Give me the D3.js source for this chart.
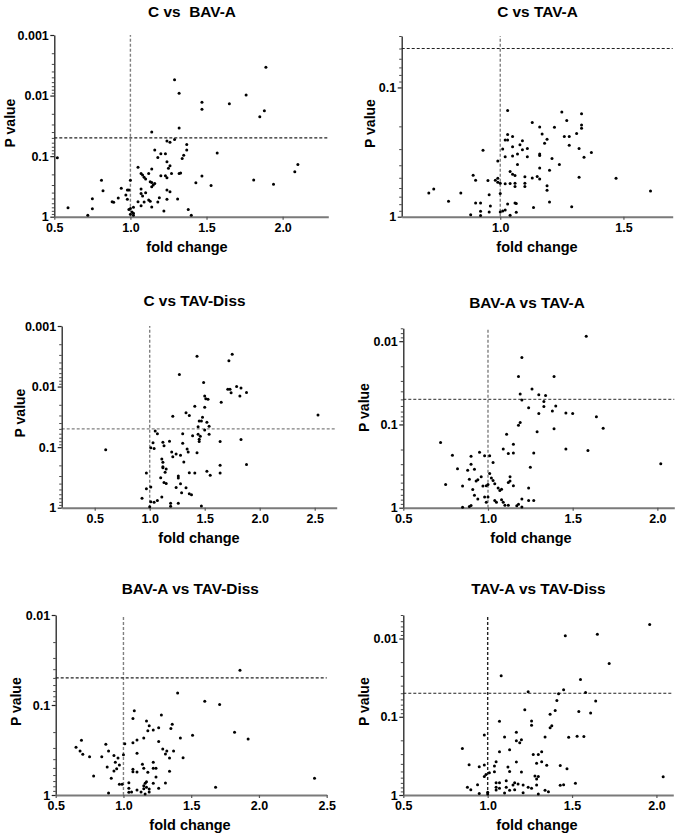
<!DOCTYPE html>
<html>
<head>
<meta charset="utf-8">
<script src="https://cdn.jsdelivr.net/npm/d3@7"></script>
<style>
  html,body{margin:0;padding:0;background:#fff;}
  svg{display:block;}
  text{font-family:"Liberation Sans",Arial,sans-serif;font-weight:bold;fill:#000;}
</style>
</head>
<body>
<svg id="chart" width="678" height="837"></svg>
<script>
// ---------- DATA: [fold change, P value] ----------
const cBavA = [[1.89,.0034],[1.29,.0055],[1.32,.0092],[1.47,.0129],[1.47,.0169],[1.65,.0136],[1.76,.0098],[1.88,.0178],[1.85,.0223],[1.32,.0344],
[1.14,.040],[1.29,.053],[1.24,.056],[1.26,.059],[1.37,.064],[1.37,.079],[1.16,.079],[1.20,.091],[1.23,.091],[0.52,.106],
[1.35,.097],[1.34,.109],[1.18,.105],[1.57,.089],[2.10,.137],[2.08,.181],[1.24,.124],[1.26,.144],[1.25,.159],[1.27,.193],
[1.32,.193],[1.33,.19],[1.23,.21],[1.20,.21],[1.14,.163],[1.05,.153],[1.07,.193],[1.08,.205],[1.09,.224],[1.12,.193],
[1.10,.239],[1.13,.264],[1.14,.273],[1.16,.282],[1.15,.30],[1.14,.32],[1.00,.251],[1.24,.227],[1.43,.275],[1.47,.213],
[1.53,.304],[1.81,.248],[1.94,.292],[0.81,.251],[0.82,.372],[0.94,.34],[0.98,.363],[0.99,.363],[0.97,.439],[0.92,.492],
[0.88,.565],[0.89,.58],[0.98,.517],[0.75,.504],[0.75,.738],[0.59,.71],[0.72,.95],[1.07,.349],[1.07,.412],[1.08,.456],
[1.10,.401],[1.05,.565],[1.07,.658],[1.09,.573],[1.12,.531],[1.13,.558],[1.14,.692],[1.18,.573],[1.19,.486],[1.24,.363],
[1.26,.387],[1.24,.517],[1.31,.51],[1.22,.806],[1.38,.757],[1.40,.95],[0.99,.757],[1.00,.73],[1.02,.70],[1.01,.838],
[1.02,.88],[1.00,.915],[1.02,.95]];

const cTavA = [[1.03,.151],[1.25,.155],[1.33,.16],[1.27,.18],[1.13,.187],[1.33,.195],[1.16,.202],[1.33,.207],[1.22,.203],[1.31,.227],
[1.28,.24],[1.26,.24],[1.17,.229],[1.19,.252],[1.18,.27],[1.28,.28],[1.03,.231],[1.05,.24],[1.02,.255],[1.03,.255],
[1.09,.259],[1.08,.277],[1.05,.288],[1.11,.297],[1.09,.304],[1.01,.30],[0.93,.306],[1.07,.327],[1.05,.339],[1.02,.343],
[1.11,.343],[1.16,.327],[1.16,.336],[1.21,.355],[1.32,.297],[1.37,.319],[1.34,.347],[0.99,.37],[1.07,.395],[1.24,.395],
[1.16,.42],[1.04,.448],[1.05,.47],[1.06,.481],[1.2,.437],[1.1,.49],[1.15,.489],[1.13,.502],[1.16,.51],[1.32,.496],
[1.47,.505],[0.89,.478],[0.90,.523],[0.95,.525],[0.98,.523],[0.99,.505],[0.99,.542],[1.0,.55],[1.02,.555],[1.04,.553],
[1.06,.55],[1.06,.585],[1.10,.55],[1.10,.585],[1.19,.575],[1.19,.625],[1.61,.632],[0.71,.656],[0.73,.61],[0.84,.656],
[0.79,.76],[0.955,.675],[1.0,.662],[0.90,.783],[0.92,.783],[0.96,.826],[0.92,.909],[0.955,.92],[0.88,.965],[0.92,.98],
[1.0,.92],[1.01,.904],[1.02,.888],[1.03,.798],[1.06,.783],[1.065,.79],[1.065,.925],[1.04,.976],[1.135,.847],[1.2,.77],
[1.29,.836]];

const cTavDiss = [[1.75,.00294],[1.72,.00374],[1.43,.00317],[1.27,.0063],[1.49,.0086],[1.71,.0111],[1.73,.0111],[1.74,.0126],[1.79,.010],[1.83,.0106],
[1.82,.0143],[1.88,.0125],[1.50,.0143],[1.51,.0159],[1.53,.0162],[1.50,.022],[1.41,.0212],[1.65,.0182],[1.33,.027],[1.36,.030],
[1.21,.031],[1.48,.032],[1.45,.037],[1.47,.037],[1.52,.039],[1.54,.045],[2.53,.0295],[1.44,.046],[1.50,.052],[1.54,.061],
[1.44,.061],[1.46,.066],[1.45,.074],[1.45,.081],[1.30,.060],[1.39,.065],[1.05,.054],[1.07,.060],[1.18,.080],[1.03,.085],
[1.12,.083],[1.13,.095],[1.30,.086],[1.64,.081],[1.83,.075],[1.01,.102],[1.04,.105],[0.60,.110],[1.34,.107],[1.35,.120],
[1.43,.124],[1.20,.120],[1.21,.144],[1.24,.130],[1.28,.136],[1.11,.157],[1.31,.176],[1.12,.178],[1.12,.210],[1.12,.219],
[1.15,.230],[1.14,.261],[0.97,.268],[1.36,.264],[1.41,.268],[1.52,.251],[1.55,.292],[1.64,.200],[1.64,.268],[1.88,.193],
[1.10,.320],[1.13,.382],[1.15,.400],[1.26,.300],[1.26,.324],[1.28,.402],[1.24,.462],[1.33,.467],[1.29,.565],[1.36,.587],
[1.38,.610],[0.97,.486],[1.01,.456],[0.93,.701],[1.01,.796],[1.04,.815],[1.07,.757],[1.11,.667],[1.19,.848],[1.19,.950],
[1.26,.848],[1.47,.940],[1.00,.960]];

const bavATavA = [[1.58,.0087],[1.20,.0157],[1.18,.0265],[1.39,.0265],[1.26,.0376],[1.19,.043],[1.30,.044],[1.34,.045],[1.20,.051],[1.33,.053],
[1.33,.061],[1.40,.060],[1.24,.063],[1.38,.069],[1.30,.074],[1.46,.073],[1.50,.074],[1.64,.081],[1.19,.095],[1.18,.102],
[1.68,.111],[1.39,.113],[1.11,.131],[1.29,.122],[0.72,.165],[1.15,.173],[1.09,.197],[1.12,.224],[1.15,.220],[1.27,.220],
[1.46,.197],[1.59,.206],[2.02,.297],[1.25,.326],[0.79,.234],[0.90,.241],[0.95,.216],[0.98,.237],[1.01,.237],[1.03,.286],
[0.82,.341],[0.88,.354],[0.90,.300],[0.92,.345],[0.89,.454],[0.93,.479],[0.94,.461],[0.96,.425],[1.01,.388],[1.02,.441],
[1.03,.470],[1.00,.526],[1.04,.517],[1.06,.581],[1.07,.620],[1.08,.600],[1.12,.497],[1.13,.479],[1.13,.425],[1.15,.545],
[0.75,.526],[0.85,.550],[0.91,.603],[0.97,.550],[0.99,.545],[0.92,.711],[0.94,.787],[0.98,.745],[1.00,.745],[0.99,.863],
[1.04,.817],[1.05,.863],[1.08,.800],[1.09,.863],[1.10,.937],[1.12,.937],[1.17,.946],[1.18,.912],[1.20,.787],[1.20,.980],
[1.24,.580],[1.24,.820],[1.27,.820],[0.85,.990],[0.90,.940],[0.89,.970]];

const bavATavDiss = [[1.86,.0412],[1.40,.0736],[1.60,.091],[1.71,.099],[1.08,.116],[1.07,.141],[1.28,.129],[1.17,.151],[1.19,.170],[1.18,.193],
[1.22,.190],[1.26,.179],[1.36,.164],[1.35,.182],[1.82,.201],[1.51,.217],[1.92,.239],[1.42,.233],[1.26,.255],[1.15,.232],
[1.07,.262],[1.10,.245],[1.01,.269],[0.69,.247],[0.65,.295],[0.68,.324],[0.70,.353],[0.75,.375],[0.84,.375],[0.87,.273],
[0.89,.324],[0.93,.365],[0.96,.388],[1.00,.356],[1.10,.344],[1.29,.308],[1.32,.324],[1.37,.324],[1.31,.351],[1.34,.388],
[1.44,.386],[0.94,.433],[0.97,.464],[0.88,.489],[0.95,.510],[0.93,.541],[0.91,.653],[0.78,.615],[0.97,.761],[0.99,.761],
[0.89,.950],[1.14,.456],[1.15,.506],[1.22,.433],[1.22,.506],[1.24,.506],[1.07,.519],[1.07,.551],[1.10,.555],[1.18,.560],
[1.34,.546],[1.24,.631],[1.17,.711],[1.04,.730],[1.16,.742],[1.22,.742],[1.31,.736],[1.04,.843],[1.10,.880],[1.06,.926],
[1.04,.934],[1.13,.926],[1.15,.850],[1.17,.820],[1.19,.858],[1.19,.926],[1.16,.975],[1.26,.843],[1.68,.822],[2.41,.653],
[1.15,.790]];

const tavATavDiss = [[1.96,.0066],[1.65,.0088],[1.46,.0092],[1.72,.0208],[1.08,.030],[1.55,.0334],[1.45,.0452],[1.24,.048],[1.58,.0489],[1.42,.0509],
[1.41,.0618],[1.64,.063],[1.22,.0814],[1.40,.083],[1.54,.0855],[1.61,.0898],[1.37,.0925],[1.07,.114],[1.26,.113],[1.26,.128],
[1.38,.130],[1.37,.138],[1.17,.158],[1.17,.202],[1.20,.197],[1.19,.215],[0.98,.171],[1.34,.182],[1.10,.182],[1.48,.183],
[1.53,.177],[1.57,.179],[0.85,.254],[1.07,.280],[1.13,.264],[1.27,.303],[1.30,.303],[1.32,.280],[1.05,.375],[1.17,.378],
[1.29,.394],[1.32,.375],[0.89,.410],[0.95,.435],[0.98,.413],[1.04,.426],[1.12,.439],[1.35,.418],[1.43,.421],[1.47,.461],
[1.13,.499],[1.20,.508],[1.04,.503],[1.01,.518],[0.98,.578],[0.99,.545],[1.28,.572],[1.29,.625],[1.30,.578],[2.04,.583],
[0.94,.738],[0.88,.798],[0.90,.855],[0.95,.960],[1.00,.925],[1.00,.970],[1.05,.696],[1.07,.696],[1.05,.798],[1.07,.822],
[1.05,.863],[1.10,.943],[1.11,.798],[1.11,.656],[1.13,.872],[1.16,.696],[1.18,.723],[1.21,.745],[1.21,.934],[1.24,.798],
[1.26,.822],[1.29,.745],[1.30,.970],[1.34,.872],[1.36,.906],[1.43,.753],[1.45,.738],[1.52,.710],[1.15,.745],[1.16,.855]];

// ---------- TEXT & TICKS ----------
const titles = ["C vs  BAV-A","C vs TAV-A","C vs TAV-Diss","BAV-A vs TAV-A","BAV-A vs TAV-Diss","TAV-A vs TAV-Diss"];
const xTitle = "fold change";
const yTitle = "P value";
const pThreshold = 0.05;
const fcThreshold = 1.0;
const xTicks = [[0.5,1.0,1.5,2.0],[1.0,1.5],[0.5,1.0,1.5,2.0,2.5],[0.5,1.0,1.5,2.0],[0.5,1.0,1.5,2.0,2.5],[0.5,1.0,1.5,2.0]];
const yTicks = [[1,0.1,0.01,0.001],[1,0.1],[1,0.1,0.01,0.001],[1,0.1,0.01],[1,0.1,0.01],[1,0.1,0.01]];
const xDomains = [[0.5,2.3],[0.6,1.7],[0.2,2.7],[0.5,2.1],[0.5,2.5],[0.5,2.1]];
const yDomains = [[1,0.001],[1,0.04],[1,0.001],[1,0.007],[1,0.01],[1,0.005]];
const datasets = [cBavA,cTavA,cTavDiss,bavATavA,bavATavDiss,tavATavDiss];

// ---------- LAYOUT ----------
const layout = [
  {xR:[54.3,328.3], yR:[216.7,35],  title:[192,17.2],   ylab:[15,123],   xlab:[187,252]},
  {xR:[401.7,672.7],yR:[216.7,36],  title:[537.5,17.2], ylab:[375,123.5],xlab:[537,252]},
  {xR:[61.7,336.7], yR:[507.7,326], title:[194.5,306],  ylab:[25,413],   xlab:[199,543]},
  {xR:[403.3,674.3],yR:[507.7,328.3],title:[527,307.5], ylab:[368.5,407.5],xlab:[531,543]},
  {xR:[55.7,326.7], yR:[795,615],   title:[190.3,594],  ylab:[20.5,701.7],xlab:[190,830]},
  {xR:[403.3,673.3],yR:[795,615],   title:[538.5,594],  ylab:[369,701.7],xlab:[537,830]}
];
const vDash = ["#808080","#808080","#808080","#808080","#808080","#222"];
const hDash = ["#222","#222","#808080","#555","#222","#222"];

const svg = d3.select("#chart");
const fmtY = d => (d >= 1 ? "1" : String(+d.toPrecision(1)));

datasets.forEach((data, i) => {
  const L = layout[i];
  const g = svg.append("g");
  const x = d3.scaleLinear().domain(xDomains[i]).range(L.xR);
  const y = d3.scaleLog().domain(yDomains[i]).range(L.yR);

  // minor log ticks
  const lo = Math.min(...yDomains[i]);
  const minor = [];
  for (let k = Math.floor(Math.log10(lo)); k < 0; k++) {
    for (let m = 2; m <= 9; m++) {
      const v = m * Math.pow(10, k);
      if (v >= lo - 1e-12 && v < 1) minor.push(v);
    }
  }

  // threshold lines
  g.append("line")
    .attr("x1", x(fcThreshold)).attr("x2", x(fcThreshold))
    .attr("y1", y(yDomains[i][0])).attr("y2", y(yDomains[i][1]))
    .attr("stroke", vDash[i]).attr("stroke-width", 1.4).attr("stroke-dasharray", "3,2");
  g.append("line")
    .attr("x1", x(xDomains[i][0])).attr("x2", x(xDomains[i][1]))
    .attr("y1", y(pThreshold)).attr("y2", y(pThreshold))
    .attr("stroke", hDash[i]).attr("stroke-width", 1.1).attr("stroke-dasharray", "3,2");

  // y axis minor
  const yMinor = g.append("g").attr("transform", `translate(${L.xR[0]},0)`)
    .call(d3.axisLeft(y).tickValues(minor).tickSize(2.5).tickSizeOuter(0).tickFormat(""));
  yMinor.select(".domain").remove();
  yMinor.selectAll("line").attr("stroke", "#333").attr("stroke-width", 0.9);

  // y axis major
  const yAx = g.append("g").attr("transform", `translate(${L.xR[0]},0)`)
    .call(d3.axisLeft(y).tickValues(yTicks[i]).tickSize(4).tickSizeOuter(0).tickFormat(fmtY));
  yAx.select(".domain").attr("stroke", "#222").attr("stroke-width", 1.3);
  yAx.selectAll(".tick line").attr("stroke", "#222").attr("stroke-width", 1.2);
  yAx.selectAll("text").attr("font-size", "12.5px").attr("font-weight", "bold")
    .attr("font-family", '"Liberation Sans",Arial,sans-serif').attr("fill", "#000").attr("x", -5.5);

  // x axis
  const xAx = g.append("g").attr("transform", `translate(0,${L.yR[0]})`)
    .call(d3.axisBottom(x).tickValues(xTicks[i]).tickSize(3).tickSizeOuter(0).tickFormat(d3.format(".1f")));
  xAx.select(".domain").attr("stroke", "#7a7a7a").attr("stroke-width", 1.9);
  xAx.selectAll(".tick line").attr("stroke", "#555").attr("stroke-width", 1.2);
  xAx.selectAll("text").attr("font-size", "12.5px").attr("font-weight", "bold")
    .attr("font-family", '"Liberation Sans",Arial,sans-serif').attr("fill", "#000");

  // points
  g.append("g").selectAll("circle").data(data).join("circle")
    .attr("cx", d => x(d[0])).attr("cy", d => y(d[1]))
    .attr("r", 1.5).attr("fill", "#000");

  // titles
  g.append("text").attr("x", L.title[0]).attr("y", L.title[1])
    .attr("text-anchor", "middle").attr("font-size", "15.4px")
    .style("white-space", "pre").text(titles[i]);
  g.append("text").attr("transform", `translate(${L.ylab[0]},${L.ylab[1]}) rotate(-90)`)
    .attr("text-anchor", "middle").attr("font-size", "14px").text(yTitle);
  g.append("text").attr("x", L.xlab[0]).attr("y", L.xlab[1])
    .attr("text-anchor", "middle").attr("font-size", "14.5px").text(xTitle);
});
</script>
</body>
</html>
